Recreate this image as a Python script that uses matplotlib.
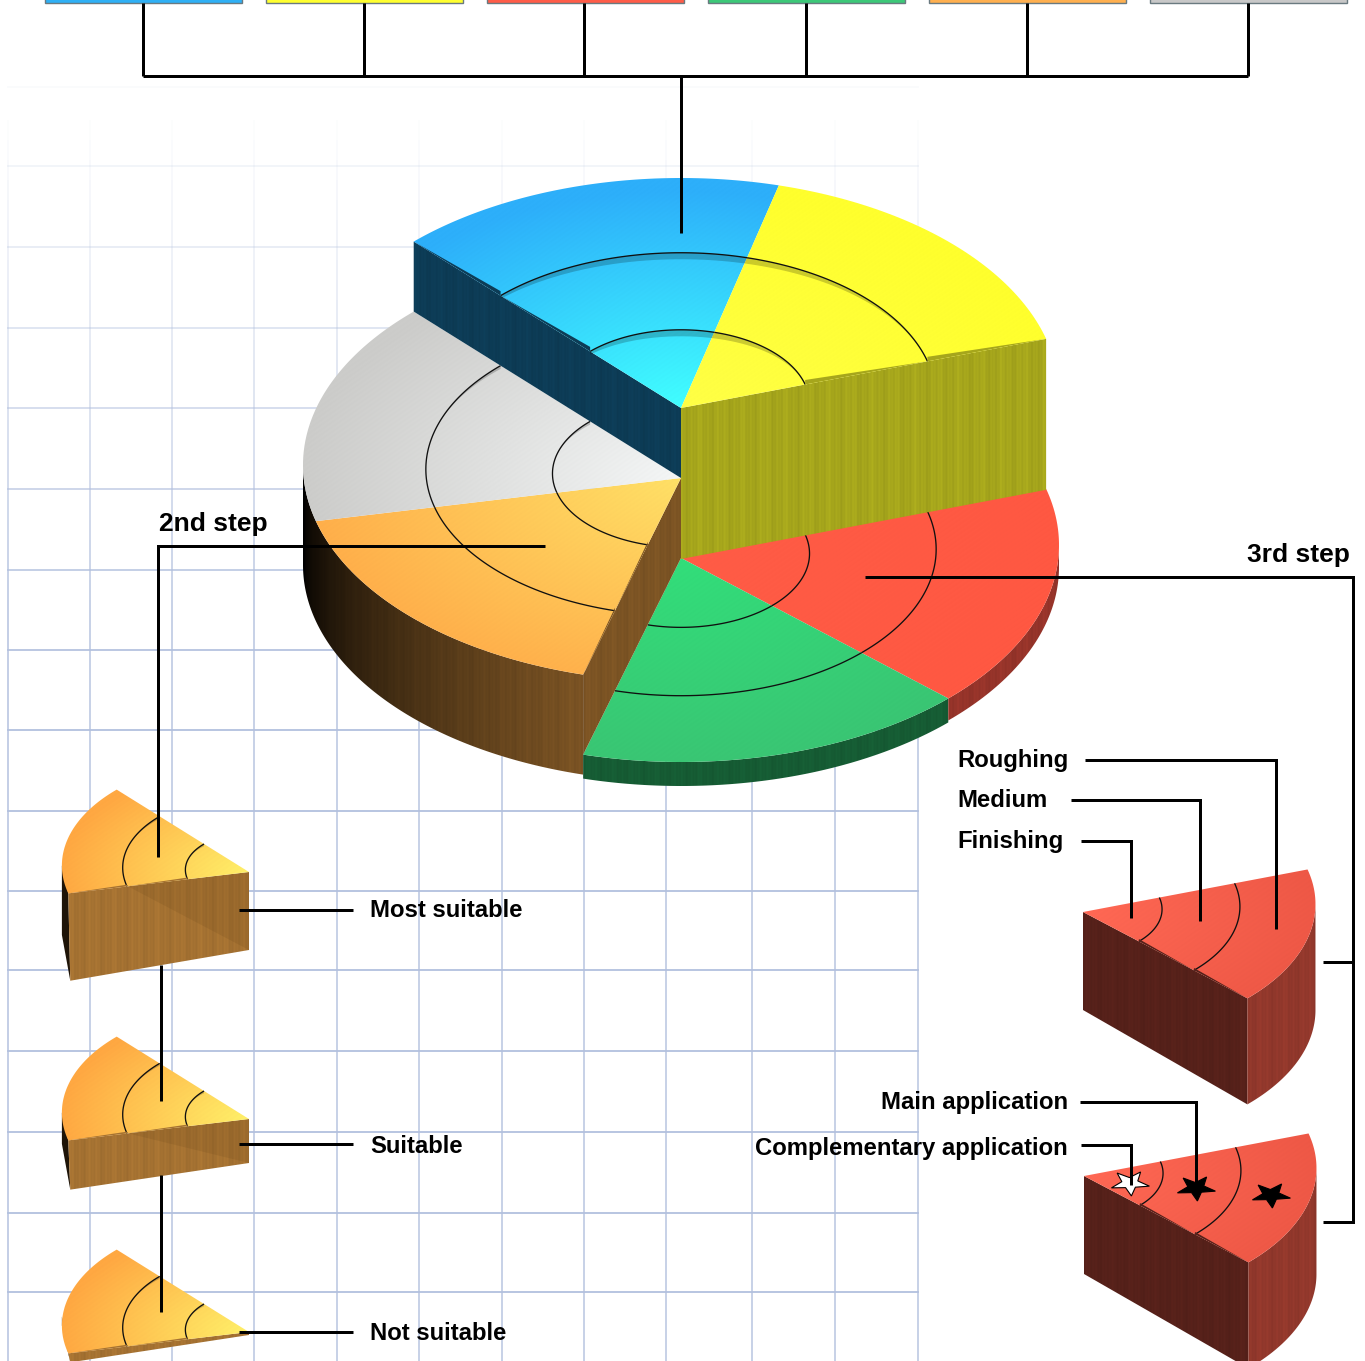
import numpy as np
import matplotlib
matplotlib.use("Agg")
import matplotlib.pyplot as plt
from matplotlib.patches import Polygon, Rectangle
from matplotlib.collections import LineCollection

plt.rcParams['font.family'] = ['Liberation Sans', 'DejaVu Sans']

# ---------- data ----------
sector_names = ['blue', 'yellow', 'red', 'green', 'orange', 'grey']
sector_shares = [1, 1, 1, 1, 1, 1]
ring_radii = [0.34, 0.675]
step_labels = ['2nd step', '3rd step']
suitability_labels = ['Most suitable', 'Suitable', 'Not suitable']
pass_labels = ['Roughing', 'Medium', 'Finishing']
application_labels = ['Main application', 'Complementary application']

# ---------- style / geometry ----------
W, H = 1365, 1361
A, B, OFF = 378.0, 217.0, 13.0
START = 75.0          # angle of the blue sector's clockwise edge
CX = 681
LEVEL = {'blue': 408, 'yellow': 408, 'grey': 478, 'orange': 478, 'red': 558, 'green': 558}
TOP = {'blue': ((45, 175, 250), (65, 255, 255)),
       'yellow': ((255, 255, 45), (255, 255, 70)),
       'red': ((255, 88, 66), (255, 92, 70)),
       'green': ((58, 196, 115), (50, 222, 122)),
       'orange': ((255, 174, 74), (255, 224, 102)),
       'grey': ((204, 204, 202), (244, 246, 246))}
BAR = ['#2fb0f5', '#ffff30', '#ff5c48', '#3cc878', '#ffb050', '#c8c8c8']
BLUE_WALL = (13, 60, 86)
YELLOW_WALL = (166, 166, 28)
ORANGE_WALL = (124, 84, 36)
GREEN_RIM = (22, 92, 52)
RED_RIM = (150, 52, 42)

# sector angle spans derived from the shares, going counter-clockwise from the blue sector
total = sum(sector_shares)
span = [360.0 * s / total for s in sector_shares]
angles = {}
a0 = START
for name, s in zip(['blue', 'grey', 'orange', 'green', 'red', 'yellow'],
                   [span[0], span[5], span[4], span[3], span[2], span[1]]):
    angles[name] = (a0, a0 + s)
    a0 += s


def pt(t, r=1.0, ax_=CX, ay=408, s=1.0):
    t = np.radians(t)
    return np.column_stack([ax_ + r * s * A * np.cos(t),
                            ay + r * s * (-OFF - B * np.sin(t))])


def arc(t0, t1, r=1.0, ax_=CX, ay=408, s=1.0, n=120):
    return pt(np.linspace(t0, t1, n), r, ax_, ay, s)


fig = plt.figure(figsize=(W / 100, H / 100), dpi=100)
ax = fig.add_axes([0, 0, 1, 1])


def stripes(X):
    return 1 + 0.022 * np.sin(X * 0.73) + 0.018 * np.sin(X * 1.91 + 1) + 0.018 * np.sin(X * 0.29)


def fill_img(verts, func, z):
    x0, y0 = np.floor(verts.min(0)) - 1
    x1, y1 = np.ceil(verts.max(0)) + 1
    X, Y = np.meshgrid(np.arange(x0, x1 + 1), np.arange(y0, y1 + 1))
    rgb = np.clip(func(X, Y), 0, 255) / 255.0
    im = ax.imshow(rgb, extent=(x0 - .5, x1 + .5, y1 + .5, y0 - .5), origin='upper',
                   zorder=z, aspect='auto', interpolation='bilinear')
    clip = Polygon(verts, closed=True, transform=ax.transData)
    im.set_clip_path(clip)
    return im


def top_surface(name, ax_, ay, s, z, t0=None, t1=None, cols=None):
    t0 = angles[name][0] if t0 is None else t0
    t1 = angles[name][1] if t1 is None else t1
    outer, inner = cols or TOP[name]
    outer, inner = np.array(outer, float), np.array(inner, float)
    verts = np.vstack([[[ax_, ay]], arc(t0, t1, 1, ax_, ay, s)])

    def f(X, Y):
        r = np.clip(np.hypot((X - ax_) / (A * s), (Y - ay) / (B * s)), 0, 1)[..., None]
        g = inner + (outer - inner) * r
        return g * (1 + 0.004 * np.sin(X * 0.9 + Y * 1.3))[..., None]
    fill_img(verts, f, z)
    # rings
    for r in ring_radii:
        a = arc(t0, t1, r, ax_, ay, s)
        tt = np.radians(np.linspace(t0, t1, 120))
        band = a + np.column_stack([np.zeros(120), 6.5 * s ** 0.5 * np.clip(np.sin(tt), 0, 1) ** 2])
        ax.add_patch(Polygon(np.vstack([a, band[::-1]]), closed=True, fc='k', ec='none', alpha=0.2, zorder=z + .1))
        ax.plot(a[:, 0], a[:, 1], color='#101010', lw=0.95, zorder=z + .2, solid_capstyle='butt')


def notches(t, ax_, ay, s, color, z, rise=4.5):
    rr = [1.0] + ring_radii[::-1]
    for i in range(2):
        p0 = pt(np.array([t]), rr[i], ax_, ay, s)[0]
        p1 = pt(np.array([t]), rr[i + 1], ax_, ay, s)[0]
        ax.add_patch(Polygon([p0, p1, p1 + [0, -rise * s ** .5]], closed=True,
                             fc=np.array(color) / 255, ec='none', zorder=z))


def wall(verts, color, z, shade=None):
    c = np.array(color, float)

    def f(X, Y):
        k = stripes(X)
        if shade is not None:
            k = k * shade(X, Y)
        return c[None, None, :] * k[..., None]
    fill_img(np.array(verts, float), f, z)


# ---------- grid ----------
gy = [87, 166, 247, 328, 408, 489, 570, 650, 730, 811, 891, 970, 1051, 1132, 1213, 1292]
gx = [8, 90, 172, 254, 337, 419, 502, 584, 666, 752, 835, 918]
GRID = np.array((178, 192, 222)) / 255
for y in gy:
    al = np.clip((y - 60) / 620, 0.07, 1)
    ax.plot([8, 918], [y, y], color=GRID, alpha=al, lw=1.3, zorder=1)
for x in gx:
    ys = np.arange(60, H + 20, 20)
    segs = [[(x, ys[i]), (x, ys[i + 1])] for i in range(len(ys) - 1)]
    als = np.clip((ys[:-1] - 100) / 500, 0.0, 1) * (0.85 if x != 8 else .9)
    cols = [(*GRID, a) for a in als]
    ax.add_collection(LineCollection(segs, colors=cols, linewidths=1.2, zorder=1))


# ---------- lower rims (bottom level) ----------
def rim(t0, t1, ax_, ay, s, h, color, z, shade=None):
    top = arc(t0, t1, 1, ax_, ay, s)
    bot = top + [0, h]
    wall(np.vstack([top, bot[::-1]]), color, z, shade)


orange_rim_shade = lambda X, Y: np.clip((X - 304) / 280, 0, 1) ** 0.55
rim(angles['orange'][0] - 15, angles['orange'][1], CX, LEVEL['orange'], 1, 100, ORANGE_WALL, 3, orange_rim_shade)
rim(angles['green'][0], angles['green'][1], CX, LEVEL['green'], 1, 24, GREEN_RIM, 4)
rim(angles['red'][0], 360, CX, LEVEL['red'], 1, 22, RED_RIM, 4)

top_surface('red', CX, LEVEL['red'], 1, 5)
top_surface('green', CX, LEVEL['green'], 1, 5)

# orange radial wall
ap = np.array([CX, LEVEL['orange']], float)
low = np.array([CX, LEVEL['green']], float)
o_end = pt(np.array([255.0]), 1, CX, LEVEL['orange'])[0]
g_end = pt(np.array([255.0]), 1, CX, LEVEL['green'])[0]
wall([ap, o_end, g_end, low], ORANGE_WALL, 6)

top_surface('orange', CX, LEVEL['orange'], 1, 7)
top_surface('grey', CX, LEVEL['grey'], 1, 7)
notches(255.0, CX, LEVEL['orange'], 1, ORANGE_WALL, 7.5, 3)

# upper walls
ap = np.array([CX, LEVEL['blue']], float)
b_end = pt(np.array([135.0]), 1, CX, LEVEL['blue'])[0]
wall([ap, b_end, b_end + [0, 70], ap + [0, 70]], BLUE_WALL, 8)
y_end = pt(np.array([15.0]), 1, CX, LEVEL['yellow'])[0]
wall([ap, y_end, y_end + [0, 151], ap + [0, 151]], YELLOW_WALL, 8)

top_surface('blue', CX, LEVEL['blue'], 1, 9)
top_surface('yellow', CX, LEVEL['yellow'], 1, 9)
notches(135.0, CX, LEVEL['blue'], 1, BLUE_WALL, 9.5)
notches(15.0, CX, LEVEL['yellow'], 1, YELLOW_WALL, 9.5)

# ---------- small orange slices ----------
ORANGE_S = 0.495
SLICE_WALL = (165, 114, 50)
for ay, h in zip([872, 1119, 1332], [78, 44, 3]):
    axx = 249
    corner = pt(np.array([195.0]), 1, axx, ay, ORANGE_S)[0]
    left = pt(np.array([180.0]), 1, axx, ay, ORANGE_S)[0]
    hl = h * 1.12 if h > 5 else 9
    ax.add_patch(Polygon([left, corner, corner + [2, hl], left + [0, hl - 18]], closed=True,
                         fc='#1e1408', ec='none', zorder=10))
    wall([[axx, ay], corner, corner + [2, hl], [axx, ay + h]], SLICE_WALL, 10)
    if h > 5:
        mid = pt(np.array([195.0]), 0.67, axx, ay, ORANGE_S)[0]
        ax.add_patch(Polygon([[axx, ay], mid, [axx, ay + h]], closed=True, fc=(.35, .22, .05), alpha=.13,
                             ec='none', zorder=10.5))
    top_surface('orange', axx, ay, ORANGE_S, 11, 135.0, 195.0,
                cols=((255, 168, 66), (255, 240, 105)))
    notches(195.0, axx, ay, ORANGE_S, SLICE_WALL, 11.5, 2.5)

# ---------- small red slices ----------
RED_S = 0.615
for axx, ay in [(1083, 912), (1084, 1176)]:
    p_in = pt(np.array([-45.0]), 1, axx, ay, RED_S)[0]
    wall([[axx, ay], p_in, p_in + [0, 106], [axx, ay + 98]], (86, 33, 26), 12)
    rim(-45.0, 0.0, axx, ay, RED_S, 106, (146, 56, 44), 12)
    top_surface('red', axx, ay, RED_S, 13, -45.0, 15.0,
                cols=((238, 88, 70), (255, 104, 84)))
    notches(-45.0, axx, ay, RED_S, (86, 33, 26), 13.5, 3)


# ---------- stars ----------
def star(cx, cy, fc, ec):
    th = np.radians(90 + 36 * np.arange(10) - 4)
    rr = np.where(np.arange(10) % 2 == 0, 1.0, 0.42)
    v = np.column_stack([cx + 20 * rr * np.cos(th), cy + 1 + 13 * rr * np.sin(th)])
    ax.add_patch(Polygon(v, closed=True, fc=fc, ec=ec, lw=.8, zorder=14))


star(1130, 1182, 'white', 'black')
star(1196, 1187, 'black', 'black')
star(1271, 1194, 'black', 'black')

# ---------- header ----------
bar_x = [45, 266, 487, 708, 929, 1150]
for x, c in zip(bar_x, BAR):
    ax.add_patch(Rectangle((x, -6), 197, 9, fc=c, ec='#6a7a80', lw=1, zorder=15))


# ---------- connectors ----------
def line(xs, ys):
    ax.plot(xs, ys, color='black', lw=2.15, zorder=16, solid_joinstyle='miter', solid_capstyle='butt')


line([143, 1248], [76, 76])
for x in [143, 364, 584, 806, 1027, 1248]:
    line([x, x], [3, 76])
line([681, 681], [76, 233])
line([545, 158, 158], [546, 546, 857])
line([161, 161], [965, 1101])
line([161, 161], [1175, 1312])
for y in [910, 1144, 1332]:
    line([239, 353], [y, y])
line([865, 1353, 1353, 1323], [577, 577, 1222, 1222])
line([1323, 1353], [962, 962])
line([1085, 1276, 1276], [760, 760, 929])
line([1071, 1200, 1200], [800, 800, 921])
line([1081, 1131, 1131], [841, 841, 918])
line([1080, 1196, 1196], [1102, 1102, 1190])
line([1081, 1131, 1131], [1145, 1145, 1185])


# ---------- text ----------
def lab(x, y, s, ha='left', fs=17.2):
    ax.text(x, y, s, ha=ha, va='center', fontsize=fs, fontweight='bold', color='black', zorder=17)


lab(159, 524, step_labels[0], fs=19)
lab(1350, 555, step_labels[1], 'right', fs=19)
for y, s in zip([910, 1146.5, 1334], suitability_labels):
    lab(370, y, s)
for y, s in zip([760, 800, 841], pass_labels):
    lab(957, y, s)
for y, s in zip([1103, 1148], application_labels):
    lab(1068, y, s, 'right')

ax.set_xlim(0, W)
ax.set_ylim(H, 0)
ax.axis('off')
fig.savefig('out.png', dpi=100, facecolor='white')
